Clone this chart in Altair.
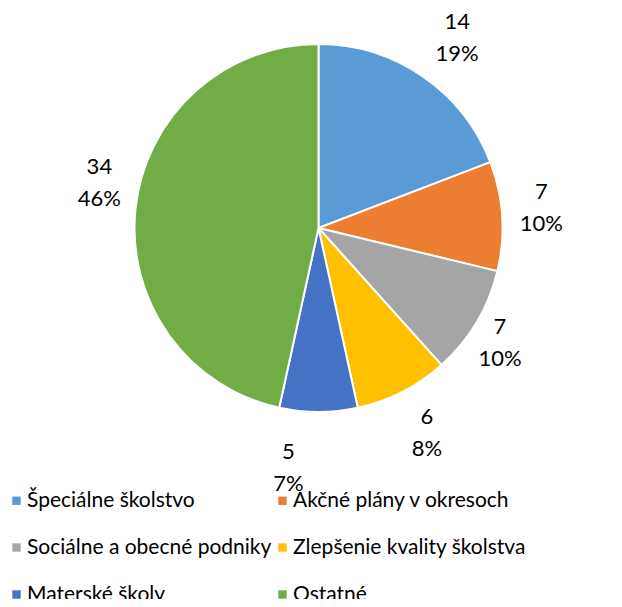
import altair as alt
import pandas as pd

categories = ["Špeciálne školstvo", "Akčné plány v okresoch", "Sociálne a obecné podniky",
              "Zlepšenie kvality školstva", "Materské školy", "Ostatné"]
values = [14, 7, 7, 6, 5, 34]
percents = ["19%", "10%", "10%", "8%", "7%", "46%"]
colors = ["#5B9BD5", "#ED7D31", "#A5A5A5", "#FFC000", "#4472C4", "#70AD47"]
# label placement (style): radial distance in px and angular nudge in value units
label_radius = [237, 224, 214, 230, 240, 224]
label_shift = [0.26, -0.39, 0.24, -0.2, 1.46, 1.18]

df = pd.DataFrame({
    "cat": categories,
    "val": values,
    "ord": list(range(len(values))),
    "lab": [[str(v), p] for v, p in zip(values, percents)],
    "lr": label_radius,
    "ls": label_shift,
})

FONT = "Lato"
CX, CY, R = 310.5, 220, 184

base = alt.Chart(df).transform_window(
    cum="sum(val)", sort=[alt.SortField("ord")], frame=[None, 0]
).transform_calculate(
    start="datum.cum - datum.val",
    lt="datum.cum - datum.val / 2 + datum.ls",
)

theta_scale = alt.Scale(domain=[0, sum(values)], nice=False)

pie = base.mark_arc(outerRadius=R, stroke="white", strokeWidth=2).encode(
    x=alt.value(CX), y=alt.value(CY),
    theta=alt.Theta("start:Q", scale=theta_scale),
    theta2="cum:Q",
    color=alt.Color(
        "cat:N",
        scale=alt.Scale(domain=categories, range=colors),
        sort=categories,
        legend=alt.Legend(
            title=None, orient="none", legendX=-2, legendY=482,
            direction="horizontal", columns=2, columnPadding=0, rowPadding=25,
            symbolType="square", symbolSize=70, symbolStrokeWidth=0,
            labelFont=FONT, labelFontSize=21, labelColor="#000000",
            labelLimit=400, symbolOffset=0, labelOffset=0,
        ),
    ),
)

labels = base.mark_text(font=FONT, fontSize=22, lineHeight=32, align="center",
                        baseline="middle", dy=-14, color="#000000").encode(
    x=alt.value(CX), y=alt.value(CY),
    theta=alt.Theta("lt:Q", scale=theta_scale),
    radius=alt.Radius("lr:Q", scale=None),
    text="lab",
)

chart = alt.layer(pie, labels).properties(
    width=606, height=591, padding=0, autosize=alt.AutoSizeParams(type="none"),
).configure_view(stroke=None)

chart.save("out.html", embed_options={"renderer": "svg", "actions": False})
